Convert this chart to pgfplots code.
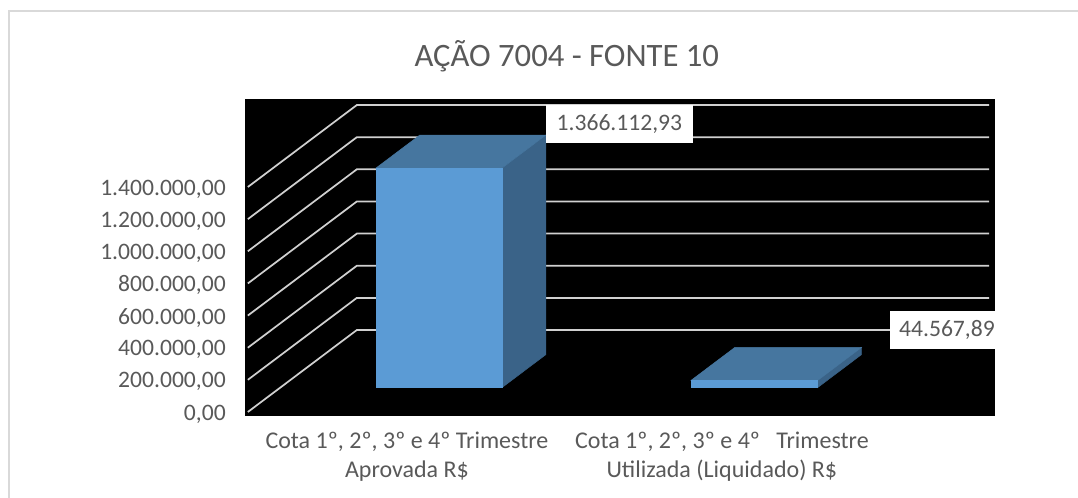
\documentclass[border=0pt]{standalone}
\usepackage{pgfplots}
\usepackage{fontspec}
\setmainfont{Carlito}
\pgfplotsset{compat=1.18}
\definecolor{txt}{HTML}{595959}
\definecolor{gridc}{HTML}{D0D0D0}
\definecolor{frontc}{HTML}{5B9BD5}
\definecolor{topc}{HTML}{46769F}
\definecolor{sidec}{HTML}{3A6388}
% one picture pixel = 0.75pt
\begin{document}
\begin{tikzpicture}
\useasboundingbox (0,0) rectangle (808.5pt,373.5pt);
\draw[color=black!15,line width=1.1pt] (6.75pt,0) -- (6.75pt,365.25pt) -- (808.5pt,365.25pt);
\begin{axis}[
    at={(183.75pt,61.5pt)}, anchor=south west,
    scale only axis, width=562.5pt, height=237.75pt,
    xmin=-0.514, xmax=1.867,
    ymin=-24891, ymax=1947729,
    clip=false,
    axis background/.style={fill=black},
    axis line style={draw=none},
    major tick length=0pt,
    xtick={0,1},
    xticklabels={{Cota 1º, 2º, 3º e 4º Trimestre\\Aprovada R\$},{Cota 1º, 2º, 3º e 4º\ \ \ Trimestre\\Utilizada (Liquidado) R\$}},
    x tick label style={align=center,font=\fontsize{18}{21.75}\selectfont,text=txt,yshift=-8.5pt},
    ytick={0,200000,400000,600000,800000,1000000,1200000,1400000},
    scaled y ticks=false,
    y tick label style={font=\fontsize{17.7}{20}\selectfont,text=txt,inner sep=0pt,xshift=-14.25pt,yshift=-1.5pt,
        /pgf/number format/.cd,fixed,fixed zerofill,precision=2,use comma,1000 sep={.},assume math mode=true},
    title={AÇÃO 7004 - FONTE 10},
    title style={at={(0.429,1.111)},anchor=center,font=\fontsize{24.5}{28}\selectfont,text=txt},
]
% gridlines: floor edge, then back wall
\addplot[gridc,line width=1.3pt] coordinates {(-0.505,0) (-0.159,510000) (1.848,510000)};
\addplot[gridc,line width=1.3pt] coordinates {(-0.505,200000) (-0.159,710000) (1.848,710000)};
\addplot[gridc,line width=1.3pt] coordinates {(-0.505,400000) (-0.159,910000) (1.848,910000)};
\addplot[gridc,line width=1.3pt] coordinates {(-0.505,600000) (-0.159,1110000) (1.848,1110000)};
\addplot[gridc,line width=1.3pt] coordinates {(-0.505,800000) (-0.159,1310000) (1.848,1310000)};
\addplot[gridc,line width=1.3pt] coordinates {(-0.505,1000000) (-0.159,1510000) (1.848,1510000)};
\addplot[gridc,line width=1.3pt] coordinates {(-0.505,1200000) (-0.159,1710000) (1.848,1710000)};
\addplot[gridc,line width=1.3pt] coordinates {(-0.505,1400000) (-0.159,1910000) (1.848,1910000)};
% bar 1: 1366112.93 on a floor offset of 152000, depth (0.139, 205000)
\addplot[fill=sidec,draw=sidec] coordinates {(0.302,152000) (0.441,357000) (0.441,1723112.93) (0.302,1518112.93)} -- cycle;
\addplot[fill=topc,draw=topc] coordinates {(-0.098,1518112.93) (0.041,1723112.93) (0.441,1723112.93) (0.302,1518112.93)} -- cycle;
\addplot[fill=frontc,draw=frontc] coordinates {(-0.098,152000) (0.302,152000) (0.302,1518112.93) (-0.098,1518112.93)} -- cycle;
% bar 2: 44567.89
\addplot[fill=sidec,draw=sidec] coordinates {(1.304,152000) (1.443,357000) (1.443,401567.89) (1.304,196567.89)} -- cycle;
\addplot[fill=topc,draw=topc] coordinates {(0.902,196567.89) (1.041,401567.89) (1.443,401567.89) (1.304,196567.89)} -- cycle;
\addplot[fill=frontc,draw=frontc] coordinates {(0.902,152000) (1.304,152000) (1.304,196567.89) (0.902,196567.89)} -- cycle;
% data labels
\node[fill=white,text=txt,inner sep=0pt,minimum height=28.5pt,text width=110.25pt,align=center,
      font=\fontsize{17.7}{20}\selectfont] at (axis cs:0.6746,1792000) {1.366.112,93};
\node[fill=white,text=txt,inner sep=0pt,minimum height=28.5pt,text width=78.75pt,align=right,anchor=east,
      font=\fontsize{17.7}{20}\selectfont] at (axis cs:1.867,510000) {44.567,89};
\end{axis}
\end{tikzpicture}
\end{document}
